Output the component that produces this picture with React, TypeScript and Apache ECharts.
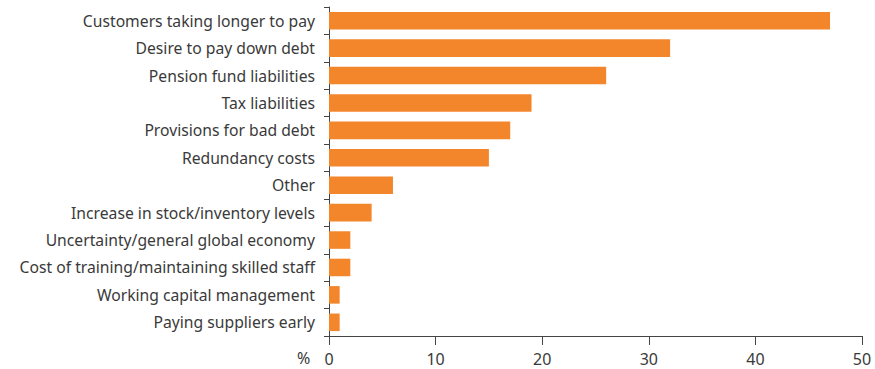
import React, { useEffect, useRef } from "react";
import * as echarts from "echarts";

const categories = [
  "Customers taking longer to pay",
  "Desire to pay down debt",
  "Pension fund liabilities",
  "Tax liabilities",
  "Provisions for bad debt",
  "Redundancy costs",
  "Other",
  "Increase in stock/inventory levels",
  "Uncertainty/general global economy",
  "Cost of training/maintaining skilled staff",
  "Working capital management",
  "Paying suppliers early",
];
const values = [47, 32, 26, 19, 17, 15, 6, 4, 2, 2, 1, 1];
const xTicks = { min: 0, max: 50, interval: 10 };
const unitLabel = "%";

export default function App() {
  const ref = useRef<HTMLDivElement>(null);
  useEffect(() => {
    if (!ref.current) return;
    const chart = echarts.init(ref.current, undefined, { renderer: "svg" });
    const font = "'Noto Sans', sans-serif";
    chart.setOption({
      animation: false,
      grid: { left: 329, right: 13, top: 7, bottom: 33, containLabel: false },
      xAxis: {
        type: "value",
        min: xTicks.min,
        max: xTicks.max,
        interval: xTicks.interval,
        splitLine: { show: false },
        axisLine: { show: true, lineStyle: { color: "#444", width: 1 } },
        axisTick: { show: true, length: 9, lineStyle: { color: "#444" } },
        axisLabel: { color: "#3a3a3a", fontSize: 16, fontFamily: font, margin: 15 },
      },
      yAxis: {
        type: "category",
        data: categories,
        inverse: true,
        axisLine: { show: true, lineStyle: { color: "#444", width: 1 } },
        axisTick: { show: true, length: 5, lineStyle: { color: "#444" } },
        axisLabel: { color: "#3a3a3a", fontSize: 15.7, fontFamily: font, margin: 14 },
      },
      graphic: [
        {
          type: "text",
          left: 297,
          top: 350,
          style: { text: unitLabel, fill: "#3a3a3a", font: `16px ${font}` },
        },
      ],
      series: [
        {
          type: "bar",
          data: values,
          barCategoryGap: "36%",
          itemStyle: { color: "#F3862A" },
        },
      ],
    });
    return () => chart.dispose();
  }, []);
  return <div ref={ref} style={{ width: 875, height: 369, position: "absolute", left: 0, top: 0 }} />;
}
